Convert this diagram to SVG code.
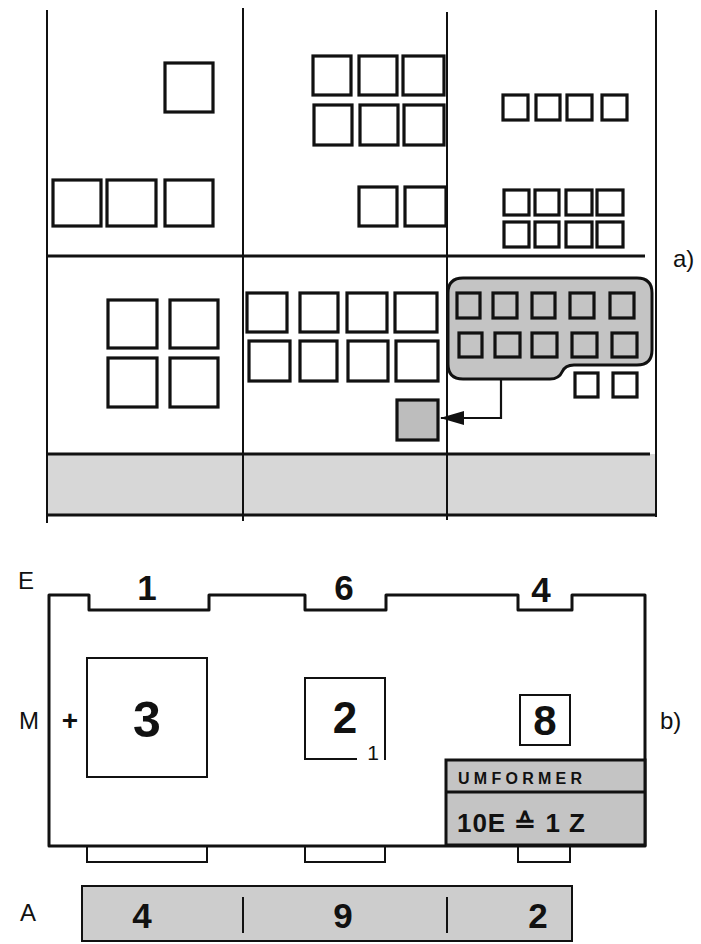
<svg xmlns="http://www.w3.org/2000/svg" width="701" height="944" viewBox="0 0 701 944">
<style>
.sq{fill:none;stroke:#111;stroke-width:3.2}
.sqg{fill:#bdbdbd;stroke:#111;stroke-width:3.2}
.ln{stroke:#111;stroke-width:2;fill:none}
.lnh{stroke:#111;stroke-width:3;fill:none}
.lbl{font-family:"Liberation Sans",Arial,sans-serif;font-size:24px;fill:#111}
.dig{font-family:"Liberation Sans",Arial,sans-serif;font-weight:bold;fill:#111;text-anchor:middle}
.sub{font-family:"Liberation Sans",Arial,sans-serif;font-weight:normal;fill:#111;text-anchor:middle;font-size:21px}
</style>
<rect width="701" height="944" fill="#fff"/>
<g id="part-a">
 <g id="grid">
  <rect x="47" y="454" width="608" height="61" fill="#d7d7d7"/>
  <line class="ln" x1="47" y1="10" x2="47" y2="523"/>
  <line class="ln" x1="243" y1="8" x2="243" y2="521"/>
  <line class="ln" x1="447" y1="12" x2="447" y2="520"/>
  <line class="ln" x1="656" y1="10" x2="656" y2="517"/>
  <line class="lnh" x1="46" y1="256" x2="645" y2="256"/>
  <line class="lnh" x1="46" y1="454" x2="650" y2="454"/>
  <line class="lnh" x1="46" y1="515" x2="655" y2="515"/>
 </g>
 <g id="cell-top-left">
  <rect class="sq" x="165" y="63" width="48" height="49"/>
  <rect class="sq" x="53" y="180" width="48" height="46"/>
  <rect class="sq" x="107" y="180" width="49" height="46"/>
  <rect class="sq" x="165" y="180" width="48" height="46"/>
 </g>
 <g id="cell-top-mid">
  <rect class="sq" x="313" y="56" width="38" height="39"/>
  <rect class="sq" x="359" y="56" width="38" height="39"/>
  <rect class="sq" x="403" y="56" width="41" height="39"/>
  <rect class="sq" x="314" y="105" width="38" height="40"/>
  <rect class="sq" x="360" y="105" width="38" height="40"/>
  <rect class="sq" x="404" y="105" width="40" height="40"/>
  <rect class="sq" x="359" y="187" width="38" height="39"/>
  <rect class="sq" x="405" y="187" width="41" height="39"/>
 </g>
 <g id="cell-top-right">
  <rect class="sq" x="503" y="95" width="25" height="25"/>
  <rect class="sq" x="536" y="95" width="24" height="25"/>
  <rect class="sq" x="567" y="95" width="25" height="25"/>
  <rect class="sq" x="602" y="95" width="25" height="25"/>
  <rect class="sq" x="504" y="190" width="25" height="25"/>
  <rect class="sq" x="535" y="190" width="24" height="25"/>
  <rect class="sq" x="566" y="190" width="26" height="25"/>
  <rect class="sq" x="597" y="190" width="26" height="25"/>
  <rect class="sq" x="504" y="222" width="25" height="25"/>
  <rect class="sq" x="535" y="222" width="24" height="25"/>
  <rect class="sq" x="566" y="222" width="26" height="25"/>
  <rect class="sq" x="597" y="222" width="26" height="25"/>
 </g>
 <g id="cell-bottom-left">
  <rect class="sq" x="108" y="300" width="49" height="48"/>
  <rect class="sq" x="170" y="300" width="48" height="48"/>
  <rect class="sq" x="108" y="358" width="49" height="49"/>
  <rect class="sq" x="170" y="358" width="48" height="49"/>
 </g>
 <g id="cell-bottom-mid">
  <rect class="sq" x="247" y="293" width="40" height="39"/>
  <rect class="sq" x="300" y="293" width="38" height="39"/>
  <rect class="sq" x="347" y="293" width="40" height="39"/>
  <rect class="sq" x="395" y="293" width="42" height="39"/>
  <rect class="sq" x="249" y="341" width="41" height="40"/>
  <rect class="sq" x="300" y="341" width="37" height="40"/>
  <rect class="sq" x="348" y="341" width="40" height="40"/>
  <rect class="sq" x="396" y="341" width="42" height="40"/>
  <rect id="carried" class="sqg" x="397" y="400" width="41" height="40"/>
 </g>
 <g id="group-ten">
  <path d="M463,278 H637 Q652,278 652,293 V350 Q652,365 637,365 H574 Q565,365 562,372 Q559,379 550,379 H463 Q448,379 448,364 V293 Q448,278 463,278 Z" fill="#c4c4c4" stroke="#111" stroke-width="3"/>
  <rect class="sq" x="457" y="293" width="23" height="25"/>
  <rect class="sq" x="493" y="293" width="24" height="25"/>
  <rect class="sq" x="532" y="293" width="23" height="25"/>
  <rect class="sq" x="570" y="293" width="24" height="25"/>
  <rect class="sq" x="610" y="293" width="24" height="25"/>
  <rect class="sq" x="459" y="333" width="23" height="24"/>
  <rect class="sq" x="495" y="333" width="25" height="24"/>
  <rect class="sq" x="532" y="333" width="25" height="24"/>
  <rect class="sq" x="572" y="333" width="25" height="24"/>
  <rect class="sq" x="612" y="333" width="25" height="24"/>
 </g>
 <g id="cell-bottom-right-rest">
  <rect class="sq" x="575" y="373" width="23" height="24"/>
  <rect class="sq" x="613" y="373" width="24" height="24"/>
 </g>
 <text class="lbl" x="673" y="267">a)</text>
</g>
<g id="connectors">
 <path d="M501,379 V418 H441" fill="none" stroke="#111" stroke-width="2.2"/>
 <polygon points="440,418 464,411 464,425" fill="#111"/>
 <path d="M446,805 H373.5 V785" fill="none" stroke="#111" stroke-width="9"/>
 <polygon points="359,787 373.5,778 388,787" fill="#111"/>
</g>
<g id="part-b">
 <text class="lbl" x="18" y="589">E</text>
 <text class="lbl" x="19" y="729">M</text>
 <text class="lbl" x="20" y="921">A</text>
 <text class="lbl" x="660" y="729">b)</text>
 <g id="main-box">
  <path d="M49,846 V595 H89 V610 H209 V595 H305 V610 H386 V595 H518 V610 H572 V595 H645 V846 Z" fill="#fff" stroke="#111" stroke-width="3" stroke-linejoin="round"/>
  <text class="dig" x="147" y="600" font-size="35">1</text>
  <text class="dig" x="344" y="600" font-size="35">6</text>
  <text class="dig" x="541" y="602" font-size="35">4</text>
 </g>
 <g id="tabs">
  <path class="ln" d="M87,846 V862 H207 V846"/>
  <path class="ln" d="M305,846 V862 H385 V846"/>
  <path class="ln" d="M518,846 V862 H570 V846"/>
 </g>
 <g id="box-3">
  <rect x="87" y="658" width="120" height="119" fill="none" stroke="#111" stroke-width="2"/>
  <text class="dig" x="147" y="737" font-size="50">3</text>
  <text class="dig" x="70" y="730" font-size="28">+</text>
 </g>
 <g id="box-2">
  <path class="ln" d="M357,759 H305 V678 H385 V760"/>
  <text class="dig" x="345" y="733" font-size="44">2</text>
  <text class="sub" x="373" y="760">1</text>
 </g>
 <g id="box-8">
  <rect x="520" y="695" width="50" height="50" fill="none" stroke="#111" stroke-width="2"/>
  <text class="dig" x="545" y="735" font-size="42">8</text>
 </g>
 <g id="umformer">
  <rect x="446" y="760" width="199" height="85" fill="#c4c4c4" stroke="#111" stroke-width="3"/>
  <line class="lnh" x1="446" y1="792" x2="645" y2="792"/>
  <text x="458" y="784" font-family="Liberation Sans,Arial,sans-serif" font-weight="bold" font-size="16" fill="#111" textLength="124" lengthAdjust="spacing">UMFORMER</text>
  <text x="457" y="832" font-family="Liberation Sans,Arial,sans-serif" font-weight="bold" font-size="26" fill="#111" textLength="128" lengthAdjust="spacing">10E ≙ 1 Z</text>
 </g>
 <g id="output-band">
  <rect x="82" y="886" width="490" height="55" fill="#cdcdcd" stroke="#111" stroke-width="2"/>
  <line class="ln" x1="243" y1="897" x2="243" y2="933"/>
  <line class="ln" x1="447" y1="897" x2="447" y2="933"/>
  <text class="dig" x="142" y="928" font-size="35">4</text>
  <text class="dig" x="343" y="928" font-size="35">9</text>
  <text class="dig" x="538" y="928" font-size="35">2</text>
 </g>
</g>
</svg>
